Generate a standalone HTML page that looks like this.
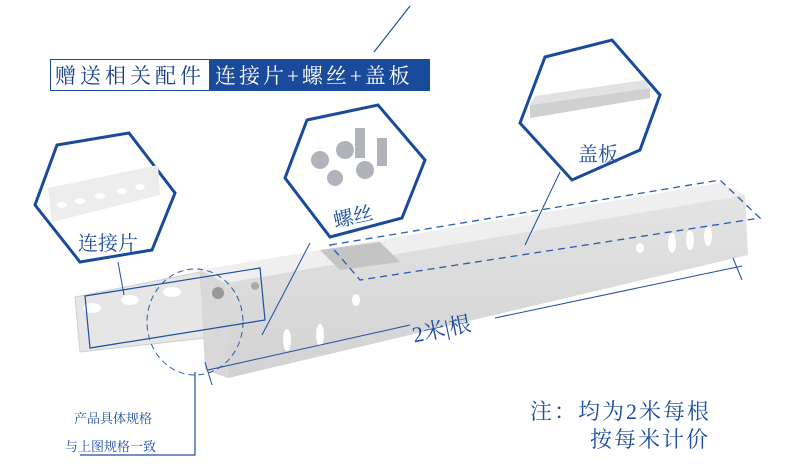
<!DOCTYPE html>
<html><head><meta charset="utf-8"><style>
body{margin:0;width:790px;height:476px;background:#fff;overflow:hidden}
svg{display:block}
text{font-family:"Liberation Serif","Noto Serif CJK SC","Noto Sans CJK SC",serif}
</style></head><body>
<svg width="790" height="476" viewBox="0 0 790 476" xmlns="http://www.w3.org/2000/svg">
<defs>
<linearGradient id="g1" x1="0" y1="0" x2="0" y2="1"><stop offset="0" stop-color="#e4e4e4"/><stop offset="1" stop-color="#d2d2d2"/></linearGradient>
</defs>
<line x1="410" y1="6" x2="374" y2="52" stroke="#1e4ea0" stroke-width="1.2"/>
<!-- banner -->
<rect x="50" y="59" width="380" height="32" fill="#1a4a9c"/>
<rect x="51" y="60" width="158" height="30" fill="#fff"/>
<text x="55" y="83" font-size="21" fill="#1a3f8a" letter-spacing="4">赠送相关配件</text>
<text x="215" y="83" font-size="21" fill="#fff" letter-spacing="3">连接片+螺丝+盖板</text>
<!-- tray -->
<polygon points="75,297 200,272 205,338 80,352" fill="#e6e6e6" stroke="#cfcfcf"/>
<polygon points="200,270 720,183 745,195 225,283" fill="#efefef"/>
<polygon points="200,270 225,283 228,378 205,370" fill="#d8d8d8"/>
<polygon points="225,283 745,195 748,255 228,378" fill="url(#g1)"/>
<polygon points="320,250 380,242 400,262 340,270" fill="#c4c4c4"/>
<g fill="#fff">
<ellipse cx="92" cy="308" rx="9" ry="5"/><ellipse cx="130" cy="300" rx="9" ry="5"/><ellipse cx="172" cy="292" rx="9" ry="5"/>
<ellipse cx="287" cy="340" rx="4" ry="11"/><ellipse cx="320" cy="335" rx="4" ry="11"/><ellipse cx="356" cy="300" rx="4" ry="6"/>
<ellipse cx="640" cy="248" rx="4" ry="5"/><ellipse cx="672" cy="243" rx="4" ry="10"/><ellipse cx="690" cy="240" rx="4" ry="10"/><ellipse cx="708" cy="236" rx="4" ry="10"/>
</g>
<circle cx="218" cy="293" r="6" fill="#999"/><circle cx="255" cy="286" r="4" fill="#aaa"/>
<!-- cover dashed -->
<polygon points="330,245 720,180 760,218 360,280" fill="none" stroke="#2a5bb0" stroke-width="1.3" stroke-dasharray="7,5"/>
<!-- connector box -->
<polygon points="85,296 260,268 265,320 90,348" fill="none" stroke="#1e4ea0" stroke-width="1.2"/>
<ellipse cx="195" cy="322" rx="48" ry="53" fill="none" stroke="#2a5bb0" stroke-width="1" stroke-dasharray="6,4"/>
<!-- dimension -->
<line x1="208" y1="370" x2="410" y2="325" stroke="#1e4ea0"/>
<line x1="495" y1="318" x2="742" y2="266" stroke="#1e4ea0"/>
<line x1="205" y1="362" x2="212" y2="385" stroke="#1e4ea0"/>
<line x1="733" y1="258" x2="742" y2="280" stroke="#1e4ea0"/>
<text x="412" y="337" font-size="22" fill="#1e4ea0" transform="rotate(-12 440 330)">2米|根</text>
<polyline points="195,372 195,455 80,455" fill="none" stroke="#1e4ea0" stroke-width="1.2"/>
<text x="74" y="423" font-size="13" fill="#1e4ea0">产品具体规格</text>
<text x="65" y="451" font-size="13" fill="#1e4ea0">与上图规格一致</text>
<text x="530" y="419" font-size="22" fill="#1e4ea0" letter-spacing="2">注：均为2米每根</text>
<text x="590" y="447" font-size="22" fill="#1e4ea0" letter-spacing="2">按每米计价</text>
<!-- hex 1 -->
<polygon points="57,145 129,133 175,193 152,250 80,262 35,205" fill="#fff" stroke="#1a4a9c" stroke-width="3"/>
<polygon points="48,188 158,165 160,195 52,222" fill="#ededed"/>
<g fill="#fff"><ellipse cx="62" cy="205" rx="5" ry="3"/><ellipse cx="80" cy="201" rx="5" ry="3"/><ellipse cx="100" cy="196" rx="5" ry="3"/><ellipse cx="122" cy="191" rx="5" ry="3"/><ellipse cx="140" cy="187" rx="5" ry="3"/></g>
<text x="78" y="250" font-size="20" fill="#1e4ea0">连接片</text>
<line x1="118" y1="262" x2="124" y2="295" stroke="#1e4ea0"/>
<!-- hex 2 -->
<polygon points="307,120 378,105 425,160 402,218 330,237 285,178" fill="#fff" stroke="#1a4a9c" stroke-width="3"/>
<g fill="#b0b4ba"><circle cx="320" cy="160" r="9"/><circle cx="345" cy="150" r="9"/><circle cx="365" cy="170" r="9"/><circle cx="335" cy="178" r="8"/><rect x="355" y="128" width="10" height="30"/><rect x="377" y="138" width="10" height="28"/></g>
<text x="333" y="222" font-size="20" fill="#1e4ea0" transform="rotate(-12 360 215)">螺丝</text>
<line x1="310" y1="243" x2="262" y2="335" stroke="#1e4ea0"/>
<!-- hex 3 -->
<polygon points="545,57 612,40 660,95 640,150 572,180 520,123" fill="#fff" stroke="#1a4a9c" stroke-width="3"/>
<polygon points="530,105 650,88 650,98 530,118" fill="#d0d0d0"/>
<polygon points="530,105 650,88 645,80 535,96" fill="#e2e2e2"/>
<text x="578" y="161" font-size="20" fill="#1e4ea0">盖板</text>
<line x1="560" y1="172" x2="525" y2="245" stroke="#1e4ea0"/>
</svg>
</body></html>
